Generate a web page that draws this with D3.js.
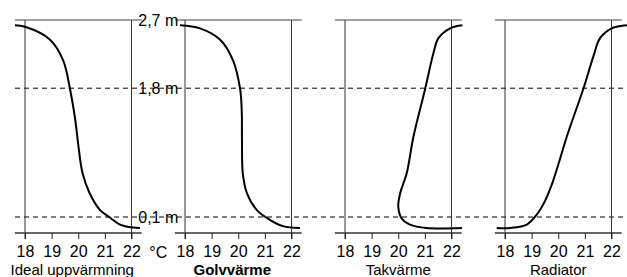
<!DOCTYPE html>
<html>
<head>
<meta charset="utf-8">
<script src="https://cdn.jsdelivr.net/npm/d3@7"></script>
<style>
  body { margin: 0; background: #fff; }
  svg { display: block; font-family: "Liberation Sans", Arial, sans-serif; }
</style>
</head>
<body>
<svg></svg>
<script>
// data
const tempTicks = [18, 19, 20, 21, 22];
const levels = [2.7, 1.8, 0.1];
const levelLabels = ["2,7 m", "1,8 m", "0,1 m"];
const panelTitles = ["Ideal uppvärmning", "Golvvärme", "Takvärme", "Radiator"];

// [temperature °C, height m]
const idealCurve = [[17.62, 2.63], [18.0, 2.61], [18.94, 2.44], [19.43, 2.17], [19.69, 1.79], [19.88, 1.4],
    [20.02, 1.0], [20.16, 0.68], [20.42, 0.42], [20.82, 0.19], [21.2, 0.09], [21.57, 0.0], [22.06, -0.04], [22.32, -0.045]];
const golvCurve = [[17.81, 2.63], [18.56, 2.59], [19.32, 2.44], [19.8, 2.17], [20.07, 1.79], [20.13, 1.51],
    [20.14, 1.12], [20.17, 0.68], [20.32, 0.42], [20.7, 0.19], [21.2, 0.06], [21.68, -0.02], [22.32, -0.045]];
const takCurve = [[22.41, 2.63], [21.95, 2.59], [21.51, 2.46], [21.32, 2.26], [21.01, 1.79], [20.57, 1.16],
    [20.32, 0.68], [20.07, 0.41], [20.0, 0.24], [20.13, 0.08], [20.44, 0.0], [21.07, -0.045], [22.39, -0.045]];
const radiatorCurve = [[22.58, 2.63], [22.01, 2.59], [21.57, 2.46], [21.32, 2.22], [20.94, 1.79], [20.32, 1.16],
    [20.0, 0.79], [19.76, 0.53], [19.5, 0.31], [19.19, 0.13], [18.82, 0.0], [18.19, -0.045], [17.69, -0.045]];
const curves = [idealCurve, golvCurve, takCurve, radiatorCurve];

const width = 627;
const height = 277;
const panelStep = 160;
const panelLeft = 25;
const panelWidth = 106.5;
const axisY = 233;
const titleShift = [-6, -6, 0, 0];

const svg = d3.select("svg")
    .attr("width", width)
    .attr("height", height);

const yScale = d3.scaleLinear()
    .domain([0.1, 2.7])
    .range([217, 20]);

// dashed levels across whole width
svg.selectAll(".level")
    .data(levels.slice(1))
    .enter()
    .append("line")
    .attr("x1", 15)
    .attr("x2", width)
    .attr("y1", d => yScale(d))
    .attr("y2", d => yScale(d))
    .attr("stroke", "#000")
    .attr("stroke-width", 1)
    .attr("stroke-dasharray", "5,4");

const line = d3.line().curve(d3.curveCatmullRom.alpha(0.5));

curves.forEach((curve, i) => {
    const x0 = panelLeft + i * panelStep;
    const xScale = d3.scaleLinear()
        .domain([18, 22])
        .range([x0, x0 + panelWidth]);

    const g = svg.append("g");

    // top line at 2,7 m
    g.append("line")
        .attr("x1", xScale(17.62))
        .attr("x2", xScale(22.38))
        .attr("y1", yScale(2.7))
        .attr("y2", yScale(2.7))
        .attr("stroke", "#808080")
        .attr("stroke-width", 1.6);

    // verticals at 18 and 22
    g.selectAll(".edge")
        .data([18, 22])
        .enter()
        .append("line")
        .attr("x1", d => xScale(d))
        .attr("x2", d => xScale(d))
        .attr("y1", yScale(2.7))
        .attr("y2", axisY + 6)
        .attr("stroke", "#333")
        .attr("stroke-width", 1);

    // x axis
    const xAxis = d3.axisBottom(xScale)
        .tickValues(tempTicks)
        .tickFormat(d3.format("d"))
        .tickSize(6)
        .tickPadding(7)
        .tickSizeOuter(0);

    const ax = g.append("g")
        .attr("transform", `translate(0, ${axisY})`)
        .call(xAxis);
    ax.select(".domain").remove();
    ax.selectAll(".tick line").attr("stroke", "#222");
    ax.selectAll(".tick text")
        .attr("fill", "#000")
        .style("font-size", "16px")
        .style("font-family", "'Liberation Sans', Arial, sans-serif");

    g.append("line")
        .attr("x1", xScale(17.62))
        .attr("x2", xScale(22.38))
        .attr("y1", axisY)
        .attr("y2", axisY)
        .attr("stroke", "#333")
        .attr("stroke-width", 1.4);

    // profile curve
    g.append("path")
        .datum(curve)
        .attr("d", line.x(d => xScale(d[0])).y(d => yScale(d[1])))
        .attr("fill", "none")
        .attr("stroke", "#000")
        .attr("stroke-width", 2);

    // title
    g.append("text")
        .attr("x", x0 + panelWidth / 2 + titleShift[i])
        .attr("y", 275)
        .attr("text-anchor", "middle")
        .style("font-size", "15px")
        .style("font-weight", i === 1 ? "bold" : "normal")
        .text(panelTitles[i]);
});

// height labels between panel 1 and 2
const labelX = (panelLeft + panelWidth + panelLeft + panelStep) / 2;
svg.selectAll(".levelLabel")
    .data(levels)
    .enter()
    .append("text")
    .attr("x", labelX)
    .attr("y", d => yScale(d))
    .attr("dy", "0.35em")
    .attr("text-anchor", "middle")
    .style("font-size", "16px")
    .text((d, i) => levelLabels[i]);

svg.append("text")
    .attr("x", labelX)
    .attr("y", 258)
    .attr("text-anchor", "middle")
    .style("font-size", "16px")
    .text("°C");
</script>
</body>
</html>
